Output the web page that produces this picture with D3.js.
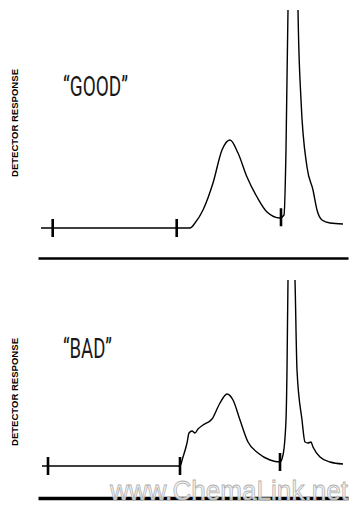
<!DOCTYPE html>
<html>
<head>
<meta charset="utf-8">
<script src="https://cdn.jsdelivr.net/npm/d3@7"></script>
<style>
  body { margin: 0; background: #fff; }
  svg { display: block; }
</style>
</head>
<body>
<div id="chart"></div>
<script>
// retention time (arbitrary units) and detector response
const goodTime = [0.1, 15.0, 15.5, 16.3, 17.3, 18.2, 19.0, 19.8, 20.7, 21.7, 22.7, 24.0, 24.4, 24.6, 24.8, 24.95, 25.75, 25.8, 26.1, 26.7, 27.3, 27.7, 28.2, 29.0, 30.3];
const goodResp = [0, 0, 0.5, 1.8, 4.5, 7.8, 8.8, 7.5, 5.1, 3.1, 1.6, 1.0, 1.3, 7.8, 21.8, 26, 26, 21.8, 12.8, 6.1, 3.8, 1.8, 0.8, 0.5, 0.4];

const badTime = [0.2, 14.0, 14.3, 14.7, 14.9, 15.2, 15.5, 15.8, 16.3, 17.2, 18.0, 18.7, 19.3, 20.0, 20.8, 21.8, 23.0, 24.0, 24.3, 24.6, 24.7, 24.8, 24.95, 25.35, 25.5, 25.7, 26.2, 26.5, 26.8, 27.1, 27.3, 28.0, 29.0, 30.3];
const badResp = [0, 0, 0.9, 2.3, 3.3, 3.5, 3.3, 3.7, 4.1, 4.7, 6.3, 7.2, 6.6, 4.6, 2.4, 1.3, 0.6, 0.4, 1.1, 4.6, 9.6, 18.6, 23, 23, 18.6, 9.6, 4.6, 2.4, 2.3, 2.4, 1.9, 0.9, 0.4, 0.2];

// integration marks
const goodMarks = [1.27, 13.67, 24.1];
const badMarks = [0.8, 14.0, 24.0];

const panelLabels = ["\u201CGOOD\u201D", "\u201CBAD\u201D"];
const axisLabel = "DETECTOR RESPONSE";
const watermark = "www.ChemaLink.net";

const width = 362, height = 512;

const svg = d3.select("#chart").append("svg")
  .attr("width", width)
  .attr("height", height);

const x = d3.scaleLinear().domain([-0.2, 30.8]).range([38, 348]);

const panels = [
  { time: goodTime, resp: goodResp, marks: goodMarks, label: panelLabels[0],
    y: d3.scaleLinear().domain([0, 22]).range([228, 8]),
    clipTop: 10, clipBottom: 250, axisY: 258, axisW: 2.5,
    labelY: 96, labelLen: 65, titleY: 123 },
  { time: badTime, resp: badResp, marks: badMarks, label: panelLabels[1],
    y: d3.scaleLinear().domain([0, 22]).range([466, 246]),
    clipTop: 280, clipBottom: 490, axisY: 498, axisW: 3.5,
    labelY: 358, labelLen: 49, titleY: 392 }
];

panels.forEach(function(p, i) {
  const data = p.time.map((t, j) => ({ t: t, r: p.resp[j] }));

  svg.append("clipPath")
    .attr("id", "clip" + i)
    .append("rect")
    .attr("x", 0)
    .attr("y", p.clipTop)
    .attr("width", width)
    .attr("height", p.clipBottom - p.clipTop);

  const line = d3.line()
    .x(d => x(d.t))
    .y(d => p.y(d.r))
    .curve(d3.curveMonotoneX);

  svg.append("path")
    .datum(data)
    .attr("clip-path", "url(#clip" + i + ")")
    .attr("fill", "none")
    .attr("stroke", "#000")
    .attr("stroke-width", 1.4)
    .attr("d", line);

  // response at a mark position, linear between read points
  const bis = d3.bisector(d => d.t).left;
  function respAt(t) {
    const k = Math.max(1, Math.min(data.length - 1, bis(data, t)));
    const a = data[k - 1], b = data[k];
    return a.r + (b.r - a.r) * (t - a.t) / (b.t - a.t);
  }

  svg.selectAll(".mark" + i)
    .data(p.marks)
    .enter()
    .append("line")
    .attr("class", "mark" + i)
    .attr("x1", d => x(d))
    .attr("x2", d => x(d))
    .attr("y1", d => p.y(respAt(d)) - 9)
    .attr("y2", d => p.y(respAt(d)) + 9)
    .attr("stroke", "#000")
    .attr("stroke-width", 2.6);

  // time axis: just the bare line
  const axis = svg.append("g")
    .attr("transform", "translate(0," + p.axisY + ")")
    .call(d3.axisBottom(x).ticks(0).tickSizeOuter(0));
  axis.select(".domain")
    .attr("stroke", "#000")
    .attr("stroke-width", p.axisW);

  svg.append("text")
    .attr("x", 63)
    .attr("y", p.labelY)
    .attr("textLength", p.labelLen)
    .attr("lengthAdjust", "spacingAndGlyphs")
    .style("font-family", "Roboto, 'Liberation Sans', sans-serif")
    .style("font-weight", 400)
    .style("font-size", "27px")
    .attr("fill", "#1a1a1a")
    .text(p.label);

  svg.append("text")
    .attr("transform", "translate(18," + p.titleY + ") rotate(-90)")
    .attr("text-anchor", "middle")
    .attr("textLength", 108)
    .attr("lengthAdjust", "spacingAndGlyphs")
    .style("font-family", "'Liberation Sans', Arial, sans-serif")
    .style("font-size", "9px")
    .style("font-weight", 600)
    .attr("fill", "#000")
    .text(axisLabel);
});

svg.append("text")
  .attr("x", 110)
  .attr("y", 500)
  .attr("textLength", 238)
  .attr("lengthAdjust", "spacingAndGlyphs")
  .style("font-family", "'Liberation Sans', Arial, sans-serif")
  .style("font-size", "27px")
  .attr("fill", "#f2f2f2")
  .attr("fill-opacity", 0.85)
  .attr("stroke", "#b0b0b0")
  .attr("stroke-width", 0.8)
  .text(watermark);
</script>
</body>
</html>
